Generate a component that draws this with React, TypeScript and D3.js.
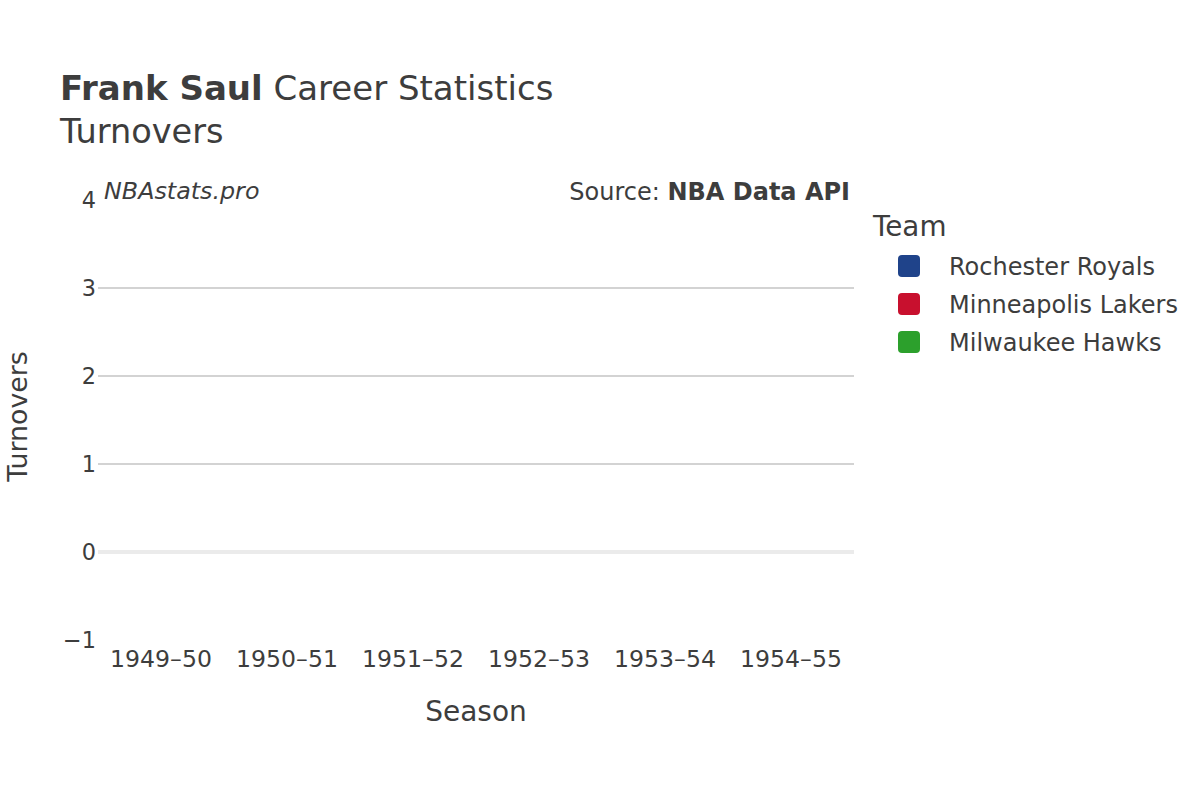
import React from "react";
import * as d3 from "d3";

const seasons = ["1949–50", "1950–51", "1951–52", "1952–53", "1953–54", "1954–55"];
const teams = ["Rochester Royals", "Minneapolis Lakers", "Milwaukee Hawks"];
const teamColors = ["#1f438a", "#c8102e", "#2ca02c"];
// Turnovers were not recorded in these seasons
const seasonTeams = ["Rochester Royals", "Rochester Royals", "Rochester Royals", "Rochester Royals", "Rochester Royals", "Milwaukee Hawks"];
const turnovers: (number | null)[] = [null, null, null, null, null, null];
const yTicks = [-1, 0, 1, 2, 3, 4];

const W = 1200;
const H = 800;
const FONT = "'DejaVu Sans', sans-serif";
const TEXT = "#3d3d3d";

export default function App() {
  const x = d3.scaleBand<string>().domain(seasons).range([98, 854]).paddingInner(0.2).paddingOuter(0.1);
  const y = d3.scaleLinear().domain([-1, 4]).range([640, 200]);
  const color = d3.scaleOrdinal<string, string>().domain(teams).range(teamColors);

  return (
    <svg width={W} height={H} style={{ position: "absolute", left: 0, top: 0, background: "#fff" }} fontFamily={FONT}>
      {/* gridlines */}
      {yTicks.filter((t) => t > 0 && t < 4).map((t) => (
        <line key={t} x1={98} x2={854} y1={y(t)} y2={y(t)} stroke="#c4c4c4" strokeWidth={1.5} />
      ))}
      <line x1={98} x2={854} y1={y(0)} y2={y(0)} stroke="#ebebeb" strokeWidth={4} />

      {/* bars (none: no recorded values) */}
      {turnovers.map((v, i) =>
        v == null ? null : (
          <rect key={i} x={x(seasons[i])} width={x.bandwidth()} y={y(Math.max(0, v))} height={Math.abs(y(v) - y(0))} fill={color(seasonTeams[i])} />
        )
      )}

      {/* y ticks */}
      {yTicks.map((t) => (
        <text key={t} x={96} y={y(t)} dy="0.36em" textAnchor="end" fontSize={22.4} fill={TEXT}>
          {t < 0 ? "\u2212" + Math.abs(t) : t}
        </text>
      ))}
      {/* x ticks */}
      {seasons.map((s) => (
        <text key={s} x={(x(s) as number) + x.bandwidth() / 2} y={667} textAnchor="middle" fontSize={23.6} fill={TEXT}>
          {s}
        </text>
      ))}

      {/* axis titles */}
      <text x={476} y={721} textAnchor="middle" fontSize={28} fill={TEXT}>Season</text>
      <text transform={`translate(27,416.5) rotate(-90)`} textAnchor="middle" fontSize={26.8} fill={TEXT}>Turnovers</text>

      {/* title */}
      <text x={60} y={100} fontSize={34} fill={TEXT}>
        <tspan fontWeight="bold">Frank Saul</tspan> Career Statistics
      </text>
      <text x={60} y={143} fontSize={33.6} fill={TEXT}>Turnovers</text>

      {/* annotations */}
      <text x={104} y={199} fontSize={23.8} fontStyle="italic" fill={TEXT}>NBAstats.pro</text>
      <text x={850} y={200} textAnchor="end" fontSize={24} fill={TEXT}>
        Source: <tspan fontWeight="bold">NBA Data API</tspan>
      </text>

      {/* legend */}
      <text x={873} y={236} fontSize={27.8} fill={TEXT}>Team</text>
      {teams.map((t, i) => (
        <g key={t} transform={`translate(0, ${266 + i * 38})`}>
          <rect x={898} y={-11} width={22} height={22} rx={4} fill={color(t)} />
          <text x={949} y={0} dy="0.36em" fontSize={24} fill={TEXT}>{t}</text>
        </g>
      ))}
    </svg>
  );
}
